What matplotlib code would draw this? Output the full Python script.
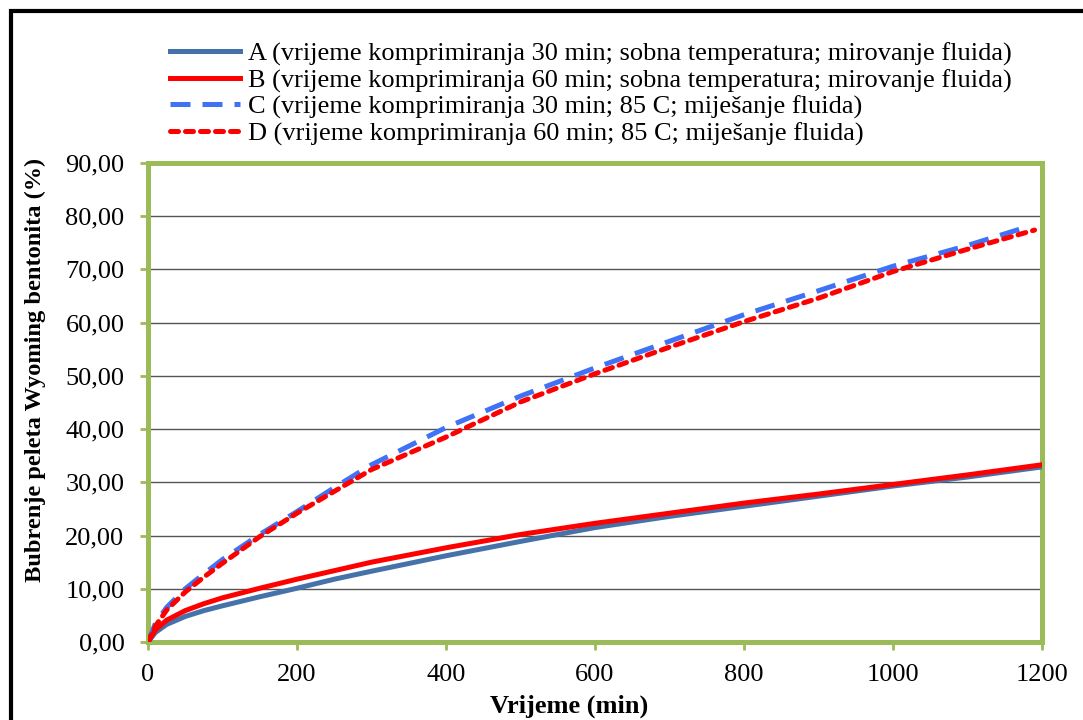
import matplotlib
matplotlib.use("Agg")
import matplotlib.pyplot as plt
from matplotlib.patches import Rectangle

# time (min)
time_ab = [0, 10, 25, 50, 75, 100, 150, 200, 250, 300, 400, 500, 600, 700, 800, 900, 1000, 1100, 1200]
time_c = [0, 10, 25, 50, 75, 100, 150, 200, 250, 300, 400, 500, 600, 700, 800, 900, 1000, 1100, 1180]
time_d = [0, 10, 25, 50, 75, 100, 150, 200, 250, 300, 400, 500, 600, 700, 800, 900, 1000, 1100, 1190]

# swelling (%)
swell_a = [0, 1.8, 3.3, 4.8, 5.9, 6.8, 8.5, 10.1, 11.8, 13.3, 16.2, 18.9, 21.5, 23.6, 25.5, 27.4, 29.3, 31.0, 32.9]
swell_b = [0, 2.3, 4.1, 5.9, 7.2, 8.3, 10.1, 11.8, 13.4, 15.0, 17.7, 20.2, 22.3, 24.2, 26.1, 27.8, 29.6, 31.4, 33.3]
swell_c = [0, 3.5, 6.5, 10.0, 12.8, 15.5, 20.2, 24.5, 29.0, 33.3, 40.3, 46.2, 51.5, 56.5, 61.5, 66.0, 70.6, 74.5, 78.0]
swell_d = [0, 3.0, 6.0, 9.4, 12.2, 14.8, 19.8, 24.2, 28.3, 32.4, 38.5, 45.1, 50.4, 55.4, 60.2, 64.6, 69.6, 73.8, 77.4]

labels = [
    "A (vrijeme komprimiranja 30 min; sobna temperatura; mirovanje fluida)",
    "B (vrijeme komprimiranja 60 min; sobna temperatura; mirovanje fluida)",
    "C (vrijeme komprimiranja 30 min; 85 C; miješanje fluida)",
    "D (vrijeme komprimiranja 60 min; 85 C; miješanje fluida)",
]
x_ticks = [0, 200, 400, 600, 800, 1000, 1200]
y_ticks = [0, 10, 20, 30, 40, 50, 60, 70, 80, 90]

plt.rcParams['font.family'] = ['Liberation Serif', 'DejaVu Serif']
green = '#9BBB59'

fig = plt.figure(figsize=(10.83, 7.2), dpi=100)
ax = fig.add_axes([148 / 1083, 78 / 720, 894 / 1083, 479 / 720])

ax.plot(time_ab, swell_a, color='#4672AA', lw=3.6, label=labels[0], zorder=3)
ax.plot(time_ab, swell_b, color='#FF0000', lw=3.6, label=labels[1], zorder=4)
ax.plot(time_c, swell_c, color='#3F72F5', lw=3.6, dashes=(4, 2.4), label=labels[2], zorder=3)
ax.plot(time_d, swell_d, color='#FF0000', lw=3.6, dashes=(1.6, 1.4), dash_capstyle='round',
        label=labels[3], zorder=4)

ax.set_xlim(0, 1200)
ax.set_ylim(0, 90)
ax.set_xticks(x_ticks)
ax.set_yticks(y_ticks)
ax.set_yticklabels([f"{v:.2f}".replace('.', ',') for v in y_ticks])
ax.tick_params(axis='both', colors=green, length=6, width=2, direction='out', labelsize=19,
               labelcolor='black')
ax.tick_params(axis='x', pad=10)
ax.tick_params(axis='y', pad=11)

ax.yaxis.grid(True, color='#555555', lw=1)
ax.set_axisbelow(True)
for s in ax.spines.values():
    s.set_color(green)
    s.set_linewidth(3.6)

ax.set_xlabel('Vrijeme (min)', fontsize=19, fontweight='bold', va='center')
ax.xaxis.set_label_coords((569 - 148) / 894, (642 - 706) / 479)
ax.set_ylabel('Bubrenje peleta Wyoming bentonita (%)', fontsize=17.6, fontweight='bold', va='center')
ax.yaxis.set_label_coords((35 - 148) / 894, (642 - 370) / 479)

fig.legend(loc='upper left', bbox_to_anchor=(157 / 1083, 1 - 29 / 720), frameon=False,
           fontsize=19, handlelength=2.65, handletextpad=0.3, labelspacing=0.1, borderpad=0)

fig.patches.append(Rectangle((10.5 / 1083, -0.1), 1.2, 1 - 10.5 / 720 + 0.1, transform=fig.transFigure,
                             fill=False, edgecolor='black', lw=3))

fig.savefig('out.png', dpi=100)
